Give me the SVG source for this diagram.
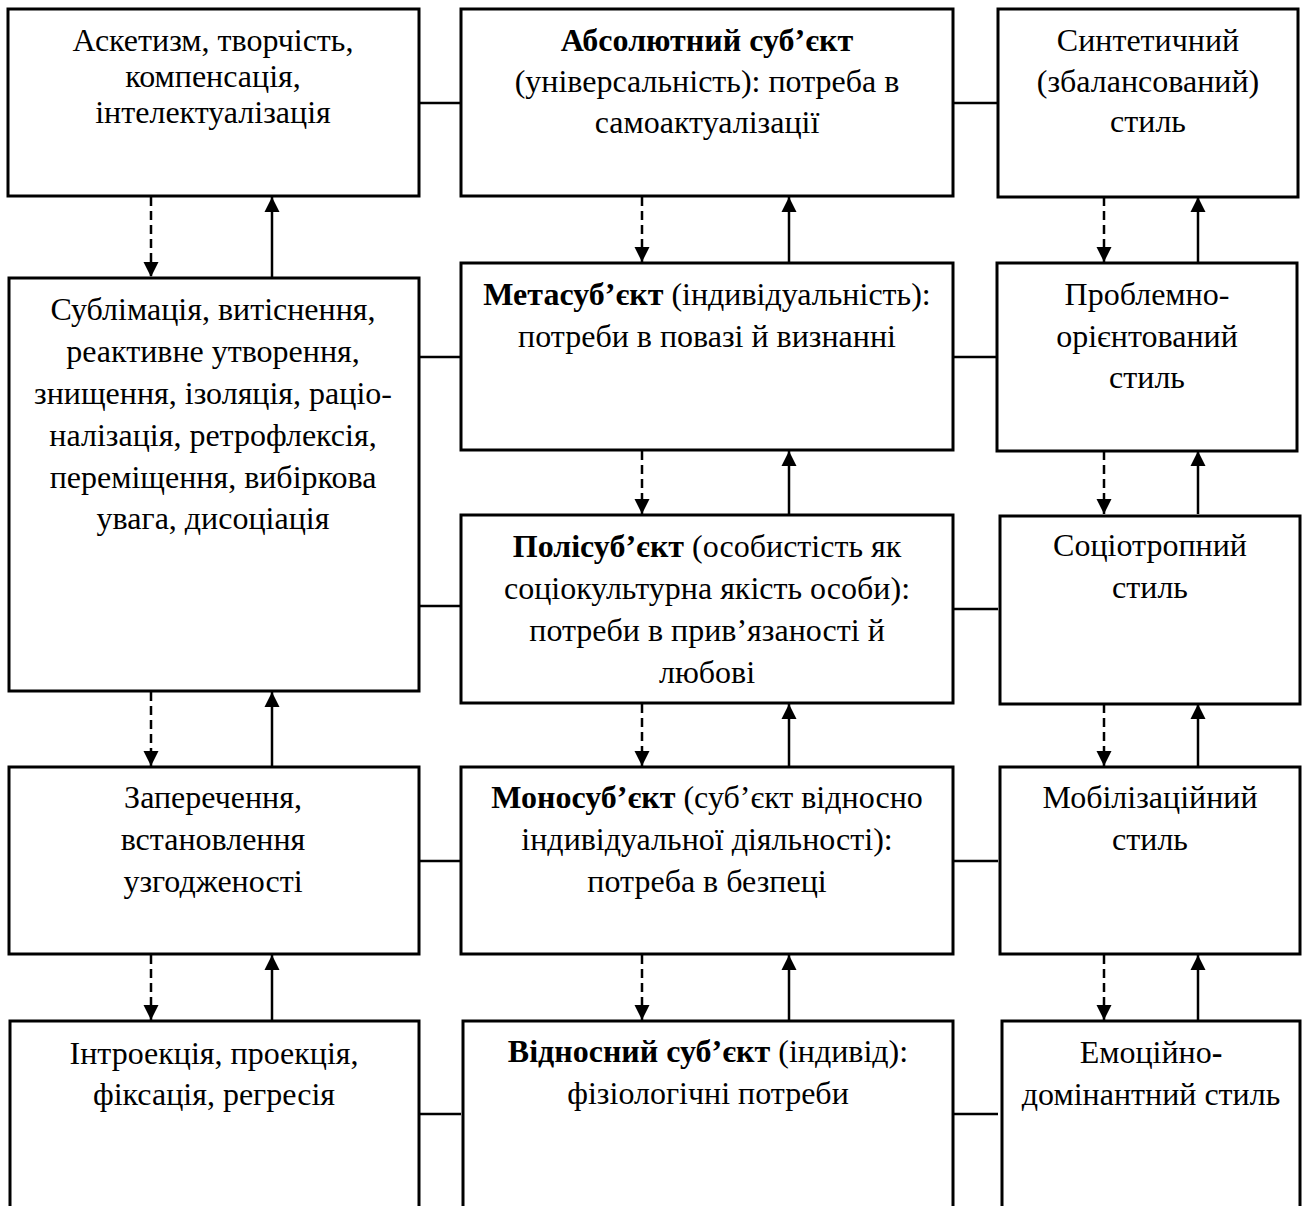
<svg xmlns="http://www.w3.org/2000/svg" width="1304" height="1206" viewBox="0 0 1304 1206">
<style>
  .box { fill: #ffffff; stroke: #000000; stroke-width: 3; }
  .t { font-family: "Liberation Serif", "Times New Roman", serif; font-size: 32px; fill: #000000; text-anchor: middle; }
  .b { font-weight: bold; }
  .line { fill: none; stroke: #000000; stroke-width: 2.5; }
  .dash { fill: none; stroke: #000000; stroke-width: 2.5; stroke-dasharray: 9 5; marker-end: url(#ah); }
  .solid { fill: none; stroke: #000000; stroke-width: 2.5; marker-end: url(#ah); }
</style>
<defs>
  <marker id="ah" markerUnits="userSpaceOnUse" markerWidth="16" markerHeight="16" viewBox="0 0 16 16" refX="15" refY="8" orient="auto">
    <path d="M0,0.5 L15,8 L0,15.5 z" fill="#000000"/>
  </marker>
</defs>
<rect width="1304" height="1206" fill="#ffffff"/>

<g id="connectors">
  <!-- horizontal links -->
  <line class="line" x1="419" y1="103" x2="461" y2="103"/>
  <line class="line" x1="953" y1="103" x2="998" y2="103"/>
  <line class="line" x1="419" y1="357" x2="461" y2="357"/>
  <line class="line" x1="953" y1="357" x2="998" y2="357"/>
  <line class="line" x1="419" y1="606" x2="461" y2="606"/>
  <line class="line" x1="953" y1="609" x2="998" y2="609"/>
  <line class="line" x1="419" y1="861" x2="461" y2="861"/>
  <line class="line" x1="953" y1="861" x2="998" y2="861"/>
  <line class="line" x1="419" y1="1114" x2="461" y2="1114"/>
  <line class="line" x1="953" y1="1114" x2="998" y2="1114"/>

  <!-- left column -->
  <line class="dash" x1="151" y1="197" x2="151" y2="277"/>
  <line class="solid" x1="272" y1="277" x2="272" y2="197"/>
  <line class="dash" x1="151" y1="692" x2="151" y2="766"/>
  <line class="solid" x1="272" y1="766" x2="272" y2="692"/>
  <line class="dash" x1="151" y1="955" x2="151" y2="1020"/>
  <line class="solid" x1="272" y1="1020" x2="272" y2="955"/>

  <!-- middle column -->
  <line class="dash" x1="642" y1="197" x2="642" y2="262"/>
  <line class="solid" x1="789" y1="262" x2="789" y2="197"/>
  <line class="dash" x1="642" y1="451" x2="642" y2="514"/>
  <line class="solid" x1="789" y1="514" x2="789" y2="451"/>
  <line class="dash" x1="642" y1="704" x2="642" y2="766"/>
  <line class="solid" x1="789" y1="766" x2="789" y2="704"/>
  <line class="dash" x1="642" y1="955" x2="642" y2="1020"/>
  <line class="solid" x1="789" y1="1020" x2="789" y2="955"/>

  <!-- right column -->
  <line class="dash" x1="1104" y1="197" x2="1104" y2="262"/>
  <line class="solid" x1="1198" y1="262" x2="1198" y2="197"/>
  <line class="dash" x1="1104" y1="451" x2="1104" y2="514"/>
  <line class="solid" x1="1198" y1="514" x2="1198" y2="451"/>
  <line class="dash" x1="1104" y1="704" x2="1104" y2="766"/>
  <line class="solid" x1="1198" y1="766" x2="1198" y2="704"/>
  <line class="dash" x1="1104" y1="955" x2="1104" y2="1020"/>
  <line class="solid" x1="1198" y1="1020" x2="1198" y2="955"/>
</g>

<!-- left column nodes -->
<g id="L1">
  <rect class="box" x="8" y="9" width="411" height="187"/>
  <text class="t" x="213" y="51">Аскетизм, творчість,</text>
  <text class="t" x="213" y="87">компенсація,</text>
  <text class="t" x="213" y="123">інтелектуалізація</text>
</g>
<g id="L2">
  <rect class="box" x="9" y="278" width="410" height="413"/>
  <text class="t" x="213" y="320">Сублімація, витіснення,</text>
  <text class="t" x="213" y="362">реактивне утворення,</text>
  <text class="t" x="213" y="404">знищення, ізоляція, раціо-</text>
  <text class="t" x="213" y="446">налізація, ретрофлексія,</text>
  <text class="t" x="213" y="488">переміщення, вибіркова</text>
  <text class="t" x="213" y="529">увага, дисоціація</text>
</g>
<g id="L3">
  <rect class="box" x="9" y="767" width="410" height="187"/>
  <text class="t" x="213" y="808">Заперечення,</text>
  <text class="t" x="213" y="850">встановлення</text>
  <text class="t" x="213" y="892">узгодженості</text>
</g>
<g id="L4">
  <rect class="box" x="10" y="1021" width="409" height="192"/>
  <text class="t" x="214" y="1064">Інтроекція, проекція,</text>
  <text class="t" x="214" y="1105">фіксація, регресія</text>
</g>

<!-- middle column nodes -->
<g id="M1">
  <rect class="box" x="461" y="9" width="492" height="187"/>
  <text class="t" x="707" y="51"><tspan class="b">Абсолютний суб’єкт</tspan></text>
  <text class="t" x="707" y="92">(універсальність): потреба в</text>
  <text class="t" x="707" y="133">самоактуалізації</text>
</g>
<g id="M2">
  <rect class="box" x="461" y="263" width="492" height="187"/>
  <text class="t" x="707" y="305"><tspan class="b">Метасуб’єкт</tspan> (індивідуальність):</text>
  <text class="t" x="707" y="347">потреби в повазі й визнанні</text>
</g>
<g id="M3">
  <rect class="box" x="461" y="515" width="492" height="188"/>
  <text class="t" x="707" y="557"><tspan class="b">Полісуб’єкт</tspan> (особистість як</text>
  <text class="t" x="707" y="599">соціокультурна якість особи):</text>
  <text class="t" x="707" y="641">потреби в прив’язаності й</text>
  <text class="t" x="707" y="683">любові</text>
</g>
<g id="M4">
  <rect class="box" x="461" y="767" width="492" height="187"/>
  <text class="t" x="707" y="808"><tspan class="b">Моносуб’єкт</tspan> (суб’єкт відносно</text>
  <text class="t" x="707" y="850">індивідуальної діяльності):</text>
  <text class="t" x="707" y="892">потреба в безпеці</text>
</g>
<g id="M5">
  <rect class="box" x="463" y="1021" width="490" height="192"/>
  <text class="t" x="708" y="1062"><tspan class="b">Відносний суб’єкт</tspan> (індивід):</text>
  <text class="t" x="708" y="1104">фізіологічні потреби</text>
</g>

<!-- right column nodes -->
<g id="R1">
  <rect class="box" x="998" y="9" width="300" height="188"/>
  <text class="t" x="1148" y="51">Синтетичний</text>
  <text class="t" x="1148" y="92">(збалансований)</text>
  <text class="t" x="1148" y="132">стиль</text>
</g>
<g id="R2">
  <rect class="box" x="997" y="263" width="300" height="188"/>
  <text class="t" x="1147" y="305">Проблемно-</text>
  <text class="t" x="1147" y="347">орієнтований</text>
  <text class="t" x="1147" y="388">стиль</text>
</g>
<g id="R3">
  <rect class="box" x="1000" y="516" width="300" height="188"/>
  <text class="t" x="1150" y="556">Соціотропний</text>
  <text class="t" x="1150" y="598">стиль</text>
</g>
<g id="R4">
  <rect class="box" x="1000" y="767" width="300" height="187"/>
  <text class="t" x="1150" y="808">Мобілізаційний</text>
  <text class="t" x="1150" y="850">стиль</text>
</g>
<g id="R5">
  <rect class="box" x="1002" y="1021" width="298" height="192"/>
  <text class="t" x="1151" y="1063">Емоційно<tspan class="b">-</tspan></text>
  <text class="t" x="1151" y="1105">домінантний стиль</text>
</g>
</svg>
